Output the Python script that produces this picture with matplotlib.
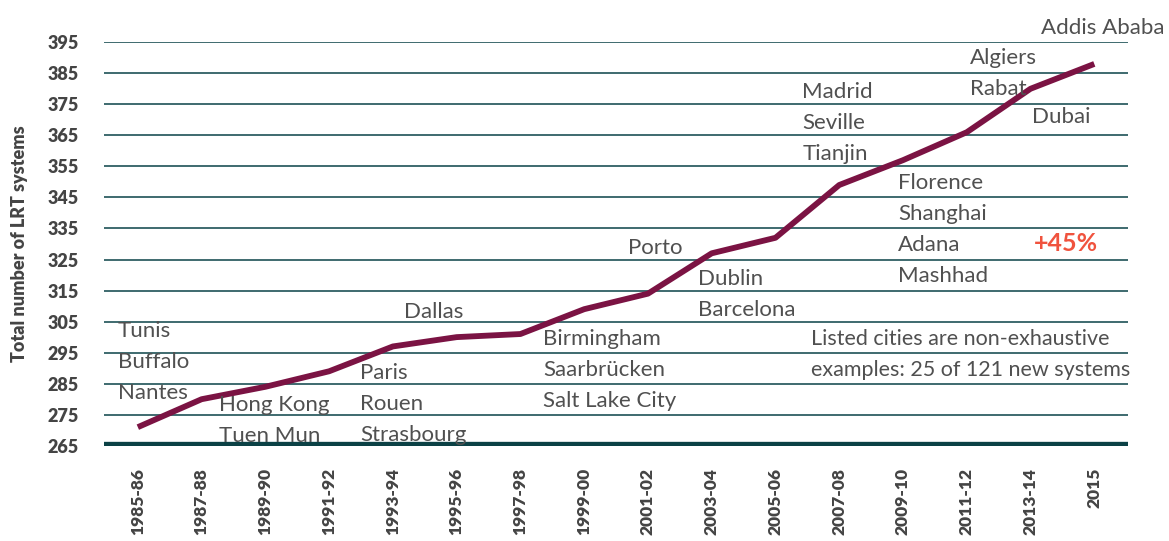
import matplotlib.pyplot as plt

periods = ["1985-86", "1987-88", "1989-90", "1991-92", "1993-94", "1995-96",
           "1997-98", "1999-00", "2001-02", "2003-04", "2005-06", "2007-08",
           "2009-10", "2011-12", "2013-14", "2015"]
systems = [271, 280, 284, 289, 297, 300, 301, 309, 314, 327, 332, 349,
           357, 366, 380, 388]

yticks = list(range(265, 400, 10))

# city groups: (x position in periods, top y, names)
city_groups = [
    (-0.31, 302, ["Tunis", "Buffalo", "Nantes"]),
    (1.27, 278, ["Hong Kong", "Tuen Mun"]),
    (3.49, 288.5, ["Paris", "Rouen", "Strasbourg"]),
    (4.18, 308, ["Dallas"]),
    (6.36, 299.5, ["Birmingham", "Saarbrücken", "Salt Lake City"]),
    (7.69, 328.6, ["Porto"]),
    (8.78, 318.6, ["Dublin", "Barcelona"]),
    (10.42, 379, ["Madrid", "Seville", "Tianjin"]),
    (11.92, 349.7, ["Florence", "Shanghai", "Adana", "Mashhad"]),
    (13.05, 390, ["Algiers", "Rabat"]),
    (14.03, 371, ["Dubai"]),
    (14.16, 399.5, ["Addis Ababa"]),
]
note = ["Listed cities are non-exhaustive", "examples: 25 of 121 new systems"]

font = ["Lato", "DejaVu Sans"]
grey = "#505050"

fig = plt.figure(figsize=(11.69, 5.41), dpi=100)
ax = fig.add_axes([0.089, 0.176, 0.876, 0.746])

for v in yticks[1:]:
    ax.axhline(v, color="#2f5f63", lw=1.3, zorder=1)
ax.axhline(265, color="#0b4145", lw=6, zorder=2)

x = list(range(len(periods)))
ax.plot(x, systems, color="#7b1343", lw=4.2, solid_capstyle="butt", zorder=3)

ax.set_xlim(-0.53, 15.53)
ax.set_ylim(265, 395)
ax.set_xticks(x)
ax.set_xticklabels(periods, rotation=90, fontsize=12.5, fontweight="heavy",
                   color="#444444", family=font)
ax.set_yticks(yticks)
ax.set_yticklabels([str(v) for v in yticks], fontsize=13, fontweight="heavy",
                   color="#444444", family=font)
ax.tick_params(length=0)
ax.tick_params(axis="x", pad=16)
ax.tick_params(axis="y", pad=18)
for s in ax.spines.values():
    s.set_visible(False)

ax.set_ylabel("Total number of LRT systems", fontsize=13, fontweight="heavy",
              color="#444444", family=font, labelpad=14)

for xp, ytop, names in city_groups:
    for i, name in enumerate(names):
        ax.text(xp, ytop - 10 * i, name, fontsize=16, color=grey,
                family=font, ha="left", va="center",
                clip_on=False, zorder=4)

for i, line in enumerate(note):
    ax.text(10.55, 299.5 - 10 * i, line, fontsize=15.5, color=grey,
            family=font, ha="left", va="center", zorder=4)

ax.text(14.05, 330, "+45%", fontsize=18, color="#f0533e", fontweight="bold",
        family=font, ha="left", va="center", zorder=4)

fig.savefig("out.png", dpi=100)
